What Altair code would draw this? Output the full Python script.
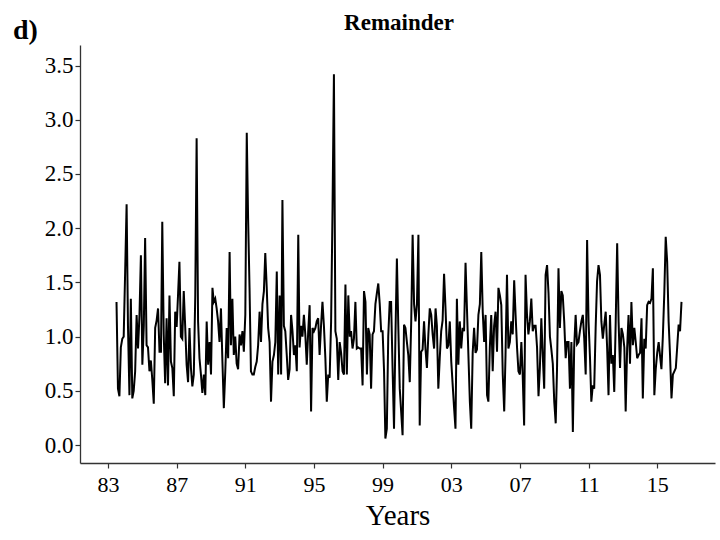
import altair as alt
import pandas as pd

# Monthly remainder values, July 1983 - June 2016
seg1 = [1.32, 0.52, 0.45, 0.9, 0.98, 1.0, 1.6, 2.22, 1.1, 0.46,
        1.35, 0.43, 0.5, 0.68, 1.2, 0.89, 1.2, 1.75, 0.74, 1.1,
        1.91, 0.92, 0.9, 0.68, 0.78, 0.6, 0.38, 1.08, 1.15, 1.26,
        0.86, 0.86, 2.06, 1.02, 0.57, 1.17, 0.55, 1.38, 0.77, 0.71,
        0.45, 1.23, 1.09, 1.4, 1.69, 1.0, 0.98, 1.42]
seg2 = [1.1, 0.74, 0.58, 1.08, 0.71, 0.54, 0.65, 1.38, 2.83, 1.14,
        0.8, 0.65, 0.48, 0.65, 0.46, 1.14, 0.74, 0.95, 0.65, 1.45,
        1.32, 1.35, 1.26, 1.14, 0.95, 1.26, 0.77, 0.34, 0.68, 1.08,
        0.8, 1.78, 0.92, 1.35, 0.83, 1.0, 0.75, 0.7, 1.02, 0.92,
        1.05, 0.86, 1.2, 2.88, 2.1, 1.45, 0.68, 0.65, 0.65, 0.72,
        0.77, 0.92, 1.23]
seg3 = [0.95, 1.3, 1.42, 1.77, 1.45, 1.08, 0.95, 0.4, 0.77, 0.83,
        0.95, 1.6, 0.65, 1.38, 0.65, 2.26, 1.1, 1.05, 0.83, 0.6,
        0.7, 1.2, 1.05, 0.83, 0.92, 0.68, 1.94, 0.9, 1.1, 1.0,
        1.2, 1.02, 0.74, 1.05, 1.29, 0.31, 1.08, 1.05, 1.08, 1.14,
        1.17, 0.83, 1.1, 1.32, 1.1, 0.8, 0.4, 0.65, 0.62, 1.14,
        2.2, 3.42]
seg4 = [1.05, 0.98, 0.6, 0.95, 0.85, 0.68, 0.65, 1.48, 0.65, 1.38,
        1.0, 1.05, 0.89, 0.98, 1.32, 0.89, 0.9, 0.89, 0.89, 0.55,
        1.42, 1.32, 0.65, 1.08, 1.02, 0.52, 1.02, 1.05, 1.3, 1.4,
        1.49, 1.3, 1.05, 1.05, 0.68, 0.06, 0.15, 1.0, 1.32, 1.32,
        0.71, 0.15, 1.0, 1.72, 1.1, 0.52, 0.3, 0.09, 1.11, 1.08,
        0.95, 0.83, 0.58]
seg5 = [1.14, 1.94, 1.3, 1.14, 1.3, 1.94, 0.18, 0.86, 0.88, 1.14,
        0.89, 0.71, 1.02, 1.26, 1.2, 1.02, 0.89, 1.26, 1.1, 0.52,
        0.8, 1.05, 1.15, 1.58, 1.26, 0.89, 0.92, 1.14, 0.77, 0.55,
        0.35, 0.15, 1.35, 0.74, 1.14, 0.89, 1.08, 1.05, 1.68, 1.26,
        0.83, 0.4, 0.15, 0.85, 1.08, 0.85, 0.88, 1.2, 1.3, 1.78,
        1.23, 0.95]
seg6 = [1.2, 0.46, 0.4, 0.9, 1.2, 0.68, 1.1, 1.23, 0.86, 1.45,
        1.38, 1.29, 0.65, 0.31, 0.83, 1.57, 0.89, 0.95, 1.14, 1.02,
        1.52, 1.2, 0.9, 0.68, 0.65, 0.95, 0.65, 0.18, 1.57, 1.2,
        1.02, 1.14, 1.35, 1.05, 1.1, 1.1, 0.9, 0.45, 0.71, 1.17,
        0.83, 0.52, 1.57, 1.66, 1.4, 1.0, 0.88, 0.75, 0.4, 0.2,
        0.7, 1.63, 1.08]
seg7 = [1.42, 1.38, 1.14, 0.8, 0.95, 0.95, 0.52, 0.95, 0.12, 0.9,
        1.2, 0.93, 0.95, 1.05, 1.14, 1.2, 0.98, 0.65, 1.89, 1.14,
        0.8, 0.4, 0.55, 0.52, 1.08, 1.51, 1.66, 1.57, 1.14, 0.98,
        1.11, 1.23, 0.89, 0.46, 1.2, 0.75, 0.83, 0.49, 1.14, 1.86,
        1.14, 0.71, 1.08, 1.02, 0.9, 0.31, 0.89, 1.2, 0.75, 1.32,
        0.92, 1.08]
seg8 = [0.95, 0.8, 0.83, 0.85, 1.17, 0.43, 0.98, 0.89, 1.29, 1.32,
        1.31, 1.35, 1.63, 0.46, 0.7, 0.85, 0.95, 0.83, 0.7, 1.0,
        1.4, 1.92, 1.69, 1.14, 0.83, 0.43, 0.65, 0.68, 0.71, 0.9,
        1.11, 1.05, 1.32]

values = seg1 + seg2 + seg3 + seg4 + seg5 + seg6 + seg7 + seg8
start = "1983-07-01"
dates = pd.date_range(start, periods=len(values), freq="MS").strftime("%Y-%m-%d")
df = pd.DataFrame({"date": dates, "value": values})

tick_years = [1983, 1987, 1991, 1995, 1999, 2003, 2007, 2011, 2015]
y_ticks = [0.0, 0.5, 1.0, 1.5, 2.0, 2.5, 3.0, 3.5]

FONT = "Liberation Serif"
AX = "#333333"

line = alt.Chart(df).mark_line(color="black", strokeWidth=2, clip=True).encode(
    x=alt.X(
        "date:T",
        scale=alt.Scale(
            type="utc",
            domain=[alt.DateTime(year=1981, month=5, date=15, utc=True),
                    alt.DateTime(year=2018, month=5, date=15, utc=True)],
            nice=False,
        ),
        axis=alt.Axis(
            values=[alt.DateTime(year=y, month=1, date=1, utc=True) for y in tick_years],
            format="%y",
            title="Years",
            titleFontSize=29,
            titleFontWeight="normal",
            titleFont=FONT,
            titleColor="black",
            titlePadding=6,
            labelFont=FONT,
            labelFontSize=22,
            labelColor="black",
            labelPadding=6,
            grid=False,
            tickSize=5,
            tickColor=AX,
            domainColor=AX,
            domainWidth=1.3,
            tickWidth=1.2,
        ),
    ),
    y=alt.Y(
        "value:Q",
        scale=alt.Scale(domain=[-0.166, 3.69], nice=False, zero=False),
        axis=alt.Axis(
            values=y_ticks,
            format=".1f",
            title=None,
            labelFont=FONT,
            labelFontSize=23,
            labelColor="black",
            labelPadding=2,
            grid=False,
            tickSize=5,
            tickColor=AX,
            domainColor=AX,
            domainWidth=1.3,
            tickWidth=1.2,
        ),
    ),
)

title_df = pd.DataFrame({"t": ["Remainder"]})
title = alt.Chart(title_df).mark_text(
    font=FONT, fontSize=23, fontWeight="bold", color="black",
    align="center", baseline="alphabetic"
).encode(x=alt.value(319), y=alt.value(-15), text="t:N")

panel_df = pd.DataFrame({"t": ["d)"]})
panel = alt.Chart(panel_df).mark_text(
    font=FONT, fontSize=28, fontWeight="bold", color="black",
    align="left", baseline="alphabetic"
).encode(x=alt.value(-67), y=alt.value(-6), text="t:N")

chart = alt.layer(line, title, panel).properties(
    width=635,
    height=418,
    autosize=alt.AutoSizeParams(type="none"),
    padding={"left": 80, "top": 45, "right": 5, "bottom": 77},
    background="white",
).configure_view(stroke=None)

chart.save("out.html", embed_options={"renderer": "svg", "actions": False})
